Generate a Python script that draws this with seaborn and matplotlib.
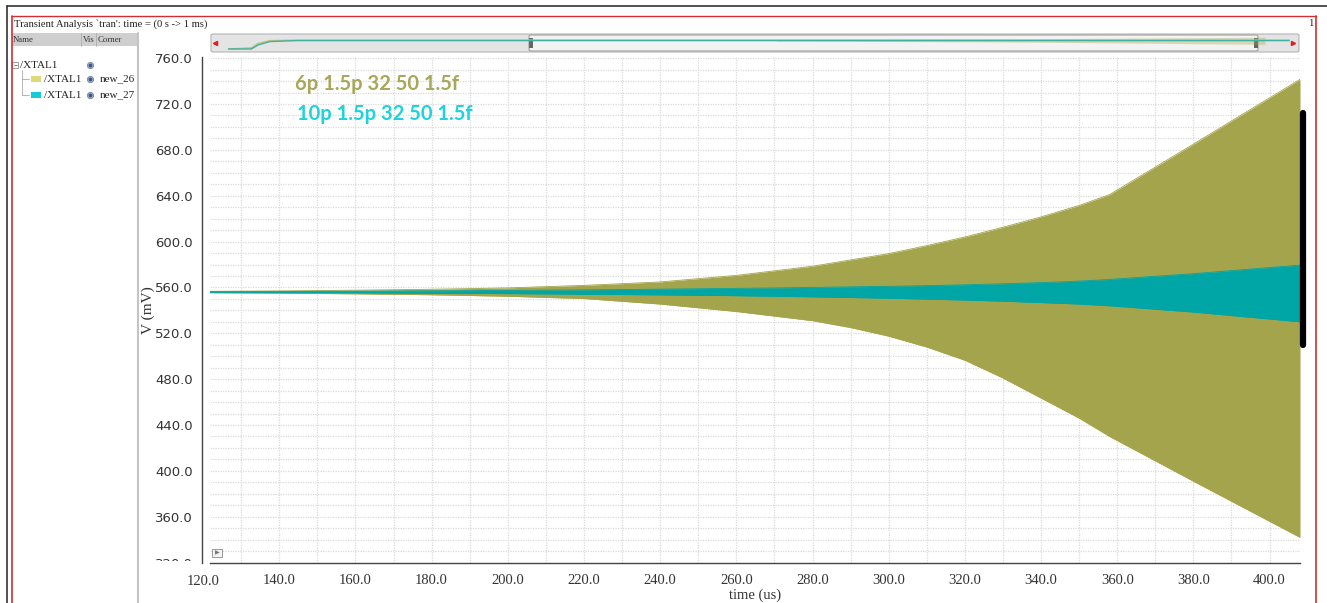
import numpy as np
import pandas as pd
import matplotlib
matplotlib.use("Agg")
import matplotlib.pyplot as plt
from matplotlib.ticker import MultipleLocator, FormatStrFormatter
from matplotlib.patches import Rectangle, FancyBboxPatch
from matplotlib.lines import Line2D
from matplotlib.transforms import Bbox, TransformedBbox, blended_transform_factory
import seaborn as sns

# envelope (peak / trough) of the two crystal oscillator outputs, in mV
time_us = [120, 140, 160, 180, 200, 220, 240, 260, 280, 290, 300, 310, 320, 330, 340, 350, 358, 380, 408]
c6_hi = [556.6, 557.0, 557.6, 558.4, 559.6, 561.8, 564.8, 570.5, 578.5, 584.0, 589.5, 596.5, 604.0, 612.5, 621.5, 631.5, 641.0, 685.0, 741.5]
c6_lo = [555.4, 555.0, 554.4, 553.6, 552.3, 550.3, 545.5, 539.0, 531.0, 525.0, 517.5, 508.0, 496.5, 481.0, 463.5, 446.0, 430.0, 391.0, 342.0]
c10_hi = [556.4, 556.5, 556.7, 557.0, 557.4, 557.9, 558.5, 559.2, 560.0, 560.5, 561.0, 561.6, 562.3, 563.2, 564.2, 565.5, 567.0, 572.0, 579.5]
c10_lo = [555.6, 555.5, 555.3, 555.0, 554.6, 554.1, 553.5, 552.8, 551.8, 551.2, 550.6, 549.8, 549.0, 548.0, 546.8, 545.5, 544.0, 538.5, 530.0]

labels = ["6p 1.5p 32 50 1.5f", "10p 1.5p 32 50 1.5f"]
corners = ["new_26", "new_27"]

# overview strip (whole 0..1 ms run, strip units 0..1)
strip_x = [0.017, 0.038, 0.044, 0.055, 0.08, 0.52, 0.97, 0.99]
strip_teal = [0.16, 0.16, 0.37, 0.55, 0.60, 0.60, 0.60, 0.60]
strip_olive = [0.16, 0.22, 0.45, 0.60, 0.63, 0.63, 0.63, 0.63]
band_x = [0.52, 0.75, 0.968]
band_hi = [0.66, 0.70, 0.78]
band_lo = [0.58, 0.52, 0.40]

OLIVE = "#A4A44C"
TEAL = "#00A5A5"
OLIVE_TXT = "#A8A75A"
CYAN_TXT = "#1CD4DA"

sns.set_style("white")
plt.rcParams["font.family"] = ["DejaVu Sans"]

W, H = 1327, 603
fx = lambda px: px / W
fy = lambda py: 1 - py / H

fig = plt.figure(figsize=(W / 100, H / 100), dpi=100)
fig.patch.set_facecolor("white")

ax = fig.add_axes([fx(210), fy(562.6), (1300 - 210) / W, (562.6 - 57) / H])

# grid every 10 us / 10 mV
for gx in np.arange(130, 408, 10):
    ax.axvline(gx, color="#DADADA", lw=0.9, ls=(0, (1, 1)), zorder=0)
for gy in np.arange(330, 761, 10):
    ax.axhline(gy, color="#DADADA", lw=0.9, ls=(0, (1, 1)), zorder=0)

ax.fill_between(time_us, c6_lo, c6_hi, color=OLIVE, lw=0, zorder=2)
ax.fill_between(time_us, c10_lo, c10_hi, color=TEAL, lw=0, zorder=3)

n = len(time_us)
df = pd.DataFrame({
    "time": time_us * 4,
    "v": c6_hi + c6_lo + c10_hi + c10_lo,
    "edge": ["6hi"] * n + ["6lo"] * n + ["10hi"] * n + ["10lo"] * n,
})
sns.lineplot(data=df, x="time", y="v", hue="edge", estimator=None,
             palette={"6hi": OLIVE, "6lo": OLIVE, "10hi": TEAL, "10lo": TEAL},
             lw=0.6, legend=False, ax=ax, zorder=4)
for ln in ax.lines[-2:]:
    ln.set_zorder(5)

ax.set_xlim(121.8, 408)
ax.set_ylim(320, 761)
ax.xaxis.set_major_locator(MultipleLocator(20))
ax.xaxis.set_minor_locator(MultipleLocator(2.5))
ax.set_yticks(np.arange(360, 761, 40))
ax.yaxis.set_minor_locator(MultipleLocator(2))
ax.xaxis.set_major_formatter(FormatStrFormatter("%.1f"))
ax.yaxis.set_major_formatter(FormatStrFormatter("%.1f"))

for s in ["top", "right"]:
    ax.spines[s].set_visible(False)
ax.spines["left"].set_position(("outward", 6))
for s in ["left", "bottom"]:
    ax.spines[s].set_color("#444444")
    ax.spines[s].set_linewidth(1.0)

ax.tick_params(axis="x", which="major", direction="out", length=5, width=1,
               color="#444444", pad=3, labelsize=10.5, labelcolor="#333333")
ax.tick_params(axis="x", which="minor", direction="out", length=2.2, width=0.8, color="#444444")
ax.tick_params(axis="y", which="major", direction="out", length=3.5, width=1,
               color="#444444", pad=3, labelsize=9.5, labelcolor="#333333")
ax.tick_params(axis="y", which="minor", direction="out", length=1.8, width=0.7, color="#444444")
for t in ax.get_xticklabels():
    t.set_fontfamily("Liberation Serif")

# first x label sits just left of the visible range
xt = blended_transform_factory(ax.transData, ax.transAxes)
ax.text(120, -0.0095 - 8 / 505.6, "120.0", transform=xt, fontfamily="Liberation Serif",
        fontsize=10.5, color="#333333", ha="center", va="top", clip_on=False)

ax.set_xlabel("time (us)", fontfamily="Liberation Serif", fontsize=10.5,
              color="#333333", labelpad=1)
ax.set_ylabel("V (mV)", fontfamily="Liberation Serif", fontsize=11,
              color="#333333", labelpad=0)

# curve labels
fig.text(fx(295), fy(84), labels[0], fontfamily="Lato", fontweight="bold",
         fontsize=14.5, color=OLIVE_TXT, va="center", ha="left")
fig.text(fx(297), fy(114), labels[1], fontfamily="Lato", fontweight="bold",
         fontsize=14.5, color=CYAN_TXT, va="center", ha="left")

# clipped lowest y label
t320 = fig.text(fx(193), fy(564), "320.0", fontsize=9.5, color="#333333",
                ha="right", va="center", clip_on=True)
t320.set_clip_box(TransformedBbox(Bbox([[0, fy(561)], [1, 1]]), fig.transFigure))

# small expand box bottom-left of plot
fig.patches.append(Rectangle((fx(212), fy(557)), 10 / W, 8 / H, transform=fig.transFigure,
                             facecolor="#F4F4F4", edgecolor="#999999", lw=0.7))
fig.text(fx(217), fy(553), "\u25b6", fontsize=4.5, color="#777777", ha="center", va="center")

# window frame
fig.add_artist(Line2D([fx(7), 1], [fy(6), fy(6)], color="#333333", lw=1.2))
fig.add_artist(Line2D([fx(7), fx(7)], [fy(6), 0], color="#333333", lw=1.2))
fig.add_artist(Line2D([fx(11.5), fx(1316)], [fy(16), fy(16)], color="#D03030", lw=1.0))
fig.add_artist(Line2D([fx(11.5), fx(11.5)], [fy(16), 0], color="#D03030", lw=1.2))
fig.add_artist(Line2D([fx(1316), fx(1316)], [fy(16), 0], color="#D03030", lw=1.2))
fig.text(fx(14), fy(24), "Transient Analysis `tran': time = (0 s -> 1 ms)",
         fontfamily="Liberation Serif", fontsize=7.7, color="#222222", va="center")
fig.text(fx(1308), fy(24), "1", fontfamily="Liberation Serif", fontsize=7.7,
         color="#222222", va="center")

# left browser panel
fig.patches.append(Rectangle((fx(12), fy(46)), 126 / W, 13 / H, transform=fig.transFigure,
                             facecolor="#CFCFCF", edgecolor="none"))
fig.add_artist(Line2D([fx(138), fx(138)], [fy(33), 0], color="#C4C4C4", lw=1.5))
for px in [81, 96]:
    fig.add_artist(Line2D([fx(px), fx(px)], [fy(33), fy(46)], color="#AAAAAA", lw=0.6))
for txt, px in [("Name", 13), ("Vis", 83), ("Corner", 98)]:
    fig.text(fx(px), fy(39.5), txt, fontfamily="Liberation Serif", fontsize=6.3,
             color="#333333", va="center")

fig.patches.append(Rectangle((fx(12), fy(68)), 6 / W, 6 / H, transform=fig.transFigure,
                             facecolor="white", edgecolor="#777777", lw=0.5))
fig.add_artist(Line2D([fx(13.5), fx(16.5)], [fy(65), fy(65)], color="#555555", lw=0.5))
fig.text(fx(20), fy(65), "/XTAL1", fontfamily="Liberation Serif", fontsize=8,
         color="#222222", va="center")
fig.add_artist(Line2D([fx(22), fx(22)], [fy(70), fy(95)], color="#999999", lw=0.5))
swatch_colors = ["#DEDA78", "#16CCD4"]
for i, (corner, sc) in enumerate(zip(corners, swatch_colors)):
    py = 79 + 16 * i
    fig.add_artist(Line2D([fx(22), fx(29)], [fy(py), fy(py)], color="#999999", lw=0.5))
    fig.patches.append(Rectangle((fx(31), fy(py + 3)), 10 / W, 6 / H,
                                 transform=fig.transFigure, facecolor=sc, edgecolor="none"))
    fig.text(fx(44), fy(py), "/XTAL1", fontfamily="Liberation Serif", fontsize=8,
             color="#222222", va="center")
    fig.text(fx(100), fy(py), corner, fontfamily="Liberation Serif", fontsize=8,
             color="#222222", va="center")
for py in [65, 79, 95]:
    fig.add_artist(Line2D([fx(89.5)], [fy(py)], marker="o", ms=4.5, mfc="#A8B8D0",
                          mec="#7088A8", mew=0.6, ls="none"))
    fig.add_artist(Line2D([fx(89.5)], [fy(py)], marker="o", ms=1.8, color="#40587A", ls="none"))

# overview strip
fig.patches.append(FancyBboxPatch((fx(211), fy(52)), 1088 / W, 18 / H, transform=fig.transFigure,
                                  boxstyle="round,pad=0,rounding_size=0.002",
                                  facecolor="#E4E4E4", edgecolor="#B4B4B4", lw=0.8))
fig.patches.append(FancyBboxPatch((fx(529), fy(51)), 729 / W, 16 / H, transform=fig.transFigure,
                                  boxstyle="round,pad=0,rounding_size=0.002",
                                  facecolor="#F3F3F3", edgecolor="#A0A0A0", lw=0.8))
for px in [529, 1254]:
    fig.patches.append(Rectangle((fx(px), fy(48)), 4 / W, 10 / H, transform=fig.transFigure,
                                 facecolor="#666666", edgecolor="none"))
fig.add_artist(Line2D([fx(215)], [fy(42.5)], marker="<", ms=3, color="#DD2222", ls="none"))
fig.add_artist(Line2D([fx(1293)], [fy(42.5)], marker=">", ms=3, color="#DD2222", ls="none"))
sax = fig.add_axes([fx(210), fy(52), 1090 / W, 19 / H], zorder=5)
sax.patch.set_alpha(0)
sax.set_xlim(0, 1)
sax.set_ylim(0, 1)
sax.axis("off")
sax.fill_between(band_x, band_lo, band_hi, color=OLIVE, alpha=0.35, lw=0)
sax.plot(strip_x, strip_olive, color="#C8C080", lw=1.0)
sax.plot(strip_x, strip_teal, color="#40B0A0", lw=1.0)

# y zoom bar on the right
fig.add_artist(Line2D([fx(1303), fx(1303)], [fy(113), fy(345)], color="black", lw=4.5,
                      solid_capstyle="round"))

fig.savefig("out.png", dpi=100)
